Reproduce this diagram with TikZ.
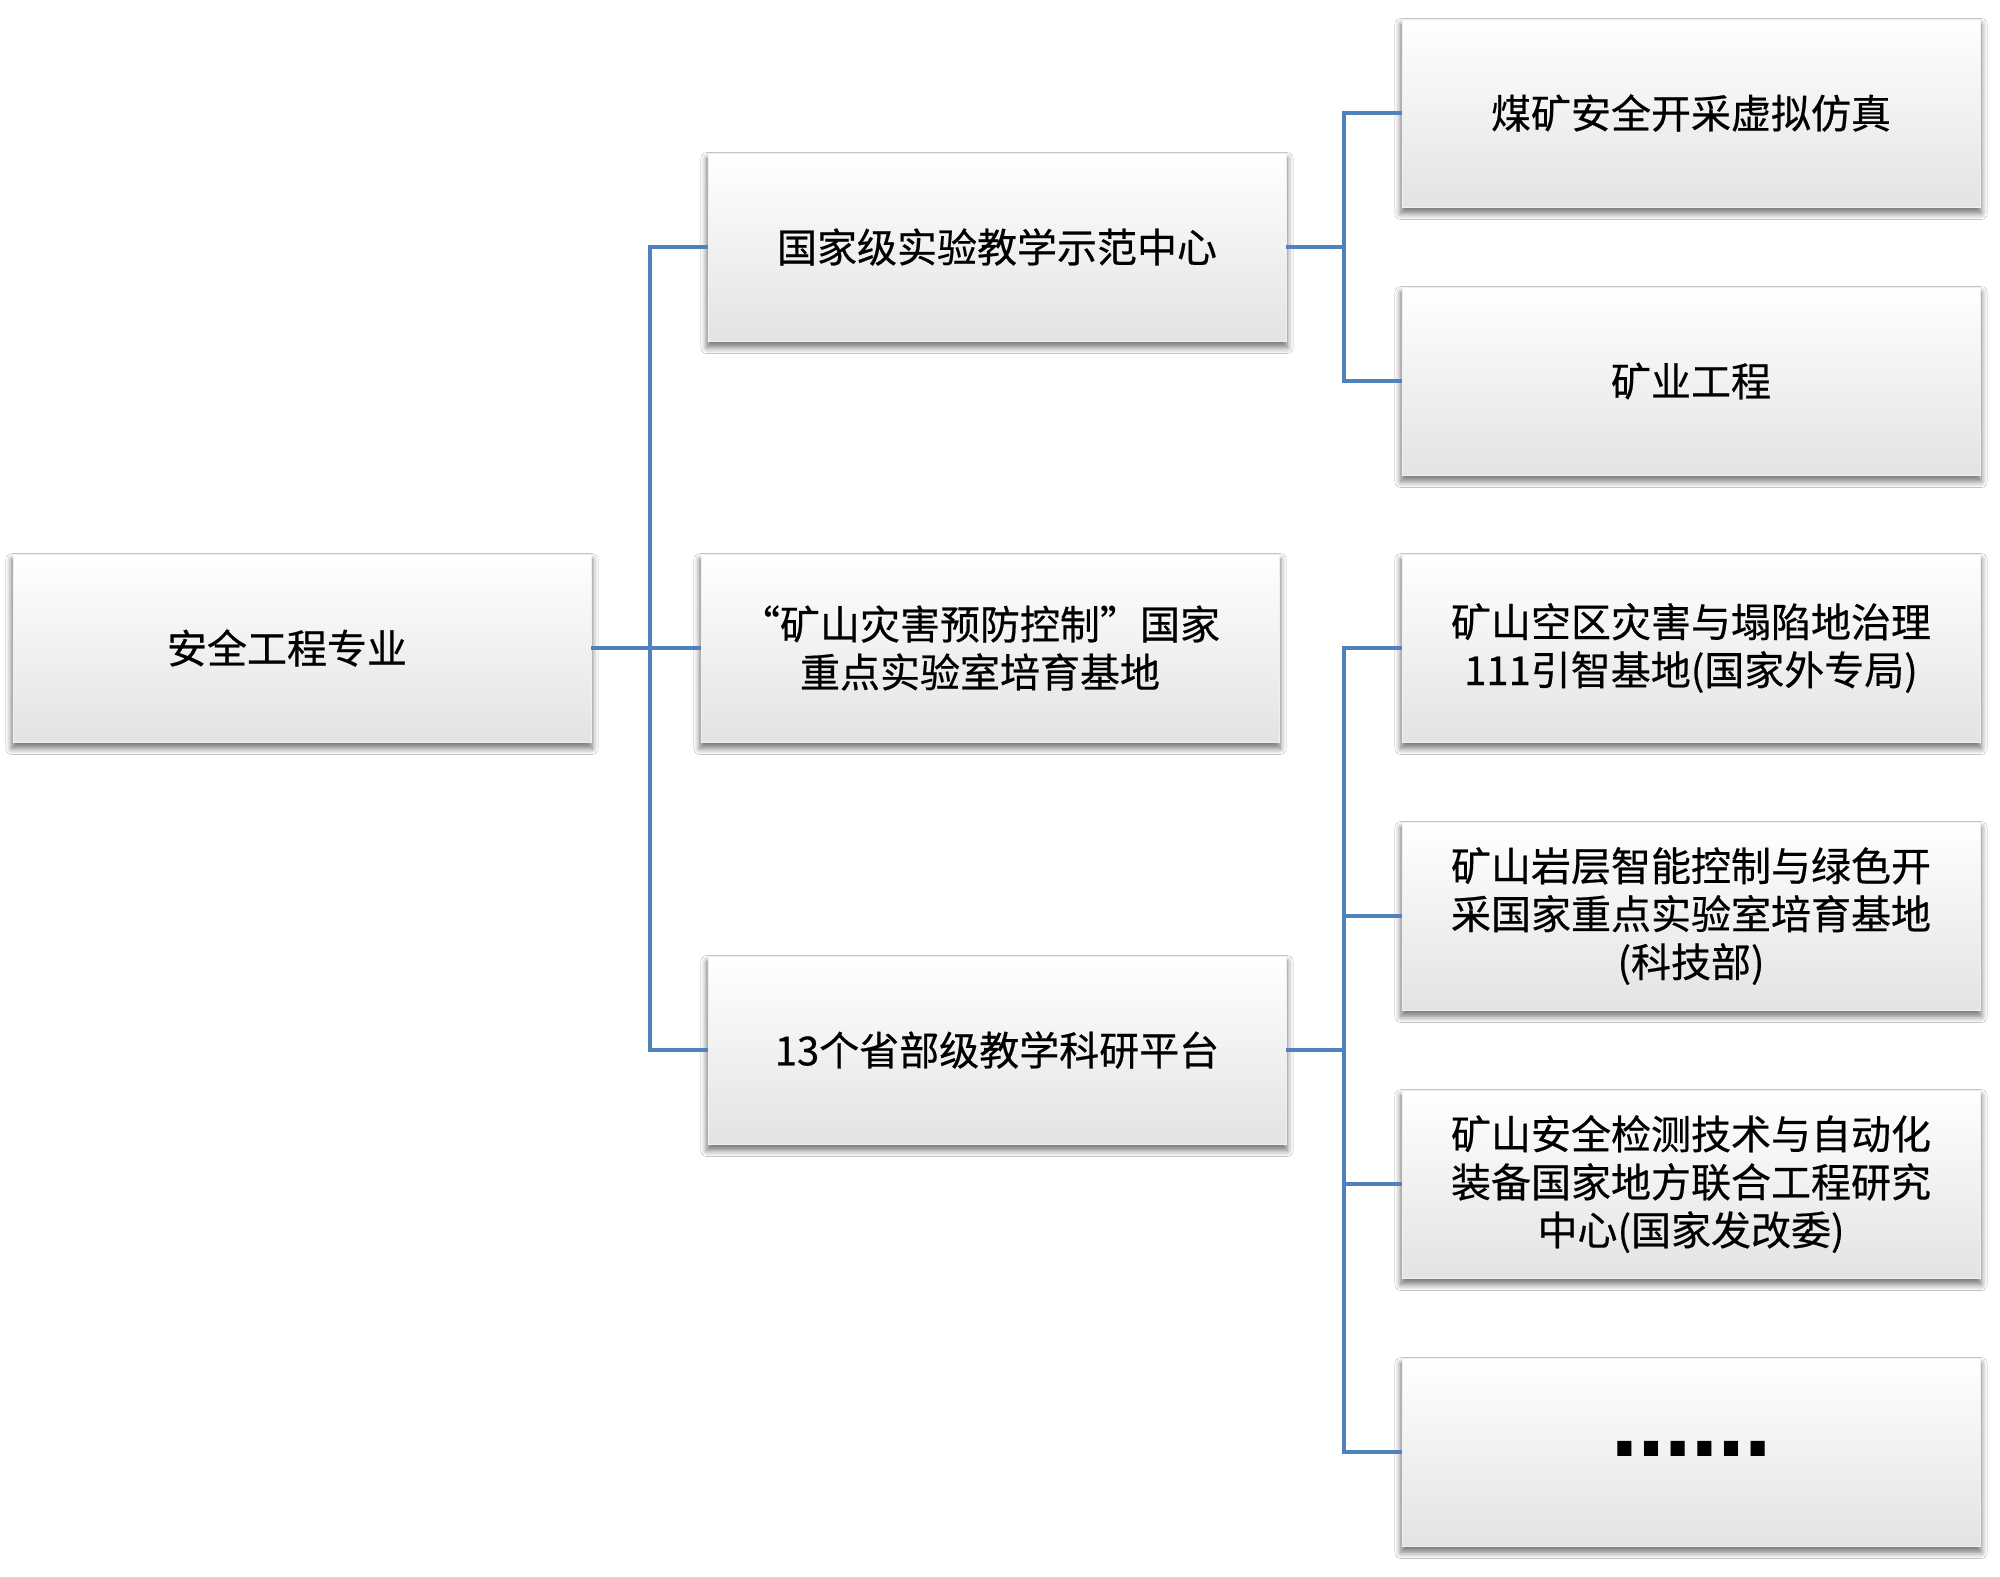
\documentclass[tikz,border=0pt]{standalone}
\usepackage{fontspec}
\setmainfont{Noto Sans CJK SC}[FakeBold=0.5]
\newfontfamily\dotsfont{DejaVu Sans}
\usetikzlibrary{shadows,shadows.blur}
\definecolor{linkblue}{RGB}{79,129,189}
\begin{document}
\begin{tikzpicture}[x=0.5pt,y=-0.5pt,
  box/.style={rectangle, minimum width=289pt, minimum height=94pt, inner sep=0pt,
    align=center, draw=gray!12, line width=0.4pt,
    top color=white, middle color=white, bottom color=gray!22,
    font=\fontsize{20pt}{24pt}\selectfont,
    blur shadow={shadow xshift=0pt, shadow yshift=-3pt, shadow blur radius=3pt,
      shadow blur steps=8, shadow opacity=55, shadow scale=1.004}},
  conn/.style={draw=linkblue, line width=2pt}]
\useasboundingbox (0,0) rectangle (2000,1576);
\fill[white] (0,0) rectangle (2000,1576);

\coordinate (busL) at (650,0);
\coordinate (busR) at (1344,0);

\node[box] (A) at (302,648) {安全工程专业\kern15pt};
\node[box] (B1) at (997,247) {国家级实验教学示范中心};
\node[box] (B2) at (990,648) {“矿山灾害预防控制”国家\kern10pt\\重点实验室培育基地\kern10pt};
\node[box] (B3) at (997,1050) {13个省部级教学科研平台};

\node[box] (C1) at (1691,113) {煤矿安全开采虚拟仿真};
\node[box] (C2) at (1691,381) {矿业工程};
\node[box] (C3) at (1691,648) {矿山空区灾害与塌陷地治理\\111引智基地(国家外专局)};
\node[box] (C4) at (1691,916) {矿山岩层智能控制与绿色开\\采国家重点实验室培育基地\\(科技部)};
\node[box] (C5) at (1691,1184) {矿山安全检测技术与自动化\\装备国家地方联合工程研究\\中心(国家发改委)};
\node[box, font=\dotsfont\bfseries\fontsize{40pt}{44pt}\selectfont] (C6) at (1691,1452) {\raisebox{3pt}{……}};

% left tree
\draw[conn] (A.east) -- (B2.west);
\draw[conn] (B1.west) -- (B1.west -| busL) -- (B3.west -| busL) -- (B3.west);
% top-right tree
\draw[conn] (B1.east) -- (B1.east -| busR);
\draw[conn] (C1.west) -- (C1.west -| busR) -- (C2.west -| busR) -- (C2.west);
% bottom-right tree
\draw[conn] (B3.east) -- (B3.east -| busR);
\draw[conn] (C3.west) -- (C3.west -| busR) -- (C6.west -| busR) -- (C6.west);
\draw[conn] (C4.west) -- (C4.west -| busR);
\draw[conn] (C5.west) -- (C5.west -| busR);
\end{tikzpicture}
\end{document}
